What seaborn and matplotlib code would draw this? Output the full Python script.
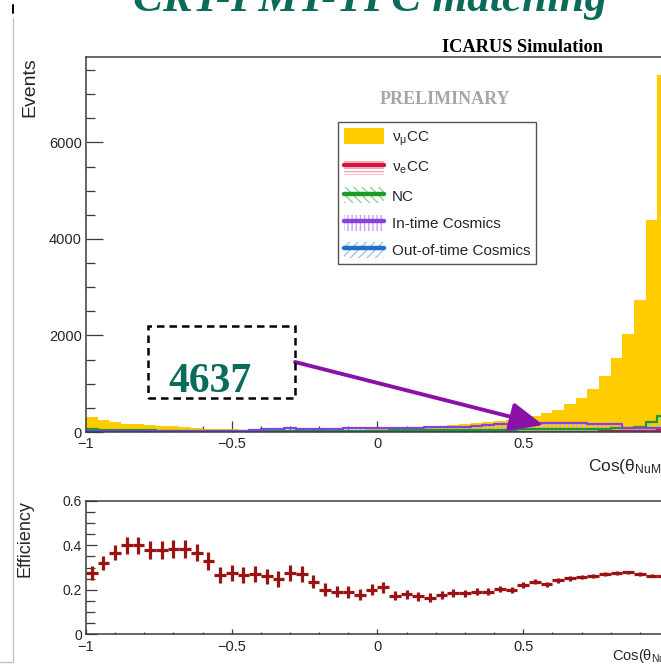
import numpy as np
import pandas as pd
import matplotlib
matplotlib.use("Agg")
import matplotlib.pyplot as plt
import seaborn as sns
from matplotlib.patches import Patch, Rectangle
from matplotlib.lines import Line2D
from matplotlib.ticker import MultipleLocator, FuncFormatter

# ---- binning: 50 bins in cos(theta_NuMI) over [-1, 1] ----
bin_edges = np.linspace(-1.0, 1.0, 51)
bin_centers = 0.5 * (bin_edges[:-1] + bin_edges[1:])

# ---- event counts per bin ----
numu_cc = [320, 250, 210, 175, 165, 135, 125, 120, 95, 90,
           72, 62, 52, 45, 40, 38, 35, 35, 36, 38,
           40, 42, 45, 48, 52, 56, 70, 80, 90, 105,
           120, 140, 160, 185, 205, 225, 250, 290, 338, 395,
           456, 580, 711, 885, 1167, 1527, 2031, 2736, 4394, 7400]
nue_cc = [4, 3, 3, 3, 3, 3, 3, 3, 3, 3,
          3, 3, 3, 3, 4, 4, 4, 4, 4, 4,
          5, 5, 5, 5, 5, 5, 6, 6, 6, 6,
          6, 7, 7, 7, 7, 8, 8, 8, 8, 9,
          9, 9, 10, 10, 11, 12, 14, 16, 25, 45]
nc = [70, 50, 42, 38, 35, 32, 30, 28, 27, 26,
      25, 25, 24, 24, 24, 25, 25, 25, 26, 26,
      27, 27, 28, 28, 30, 30, 32, 33, 35, 36,
      38, 40, 42, 44, 46, 48, 50, 52, 55, 58,
      60, 62, 64, 66, 70, 75, 85, 110, 215, 340]
intime_cosmics = [12, 12, 12, 12, 13, 13, 13, 14, 14, 15,
                  15, 16, 18, 20, 50, 52, 55, 80, 60, 65,
                  70, 72, 75, 78, 80, 82, 85, 88, 90, 95,
                  100, 105, 110, 115, 150, 160, 165, 170, 175, 180,
                  180, 180, 180, 175, 170, 160, 90, 85, 80, 75]
outtime_cosmics = [6, 6, 6, 6, 6, 6, 6, 6, 6, 6,
                   7, 7, 7, 7, 7, 7, 7, 7, 7, 7,
                   8, 8, 8, 8, 8, 8, 8, 8, 8, 8,
                   9, 9, 9, 9, 9, 9, 9, 9, 9, 9,
                   10, 10, 10, 10, 10, 10, 10, 10, 10, 10]

# ---- matching efficiency per bin with uncertainties ----
efficiency = [0.275, 0.32, 0.367, 0.399, 0.399, 0.38, 0.38, 0.384, 0.382, 0.367,
              0.33, 0.267, 0.275, 0.267, 0.27, 0.26, 0.248, 0.275, 0.272, 0.237,
              0.20, 0.192, 0.19, 0.177, 0.20, 0.212, 0.174, 0.18, 0.17, 0.165,
              0.177, 0.185, 0.185, 0.192, 0.192, 0.203, 0.198, 0.222, 0.237, 0.225,
              0.243, 0.252, 0.257, 0.263, 0.272, 0.275, 0.278, 0.272, 0.264, 0.26]
eff_err = [0.03, 0.03, 0.035, 0.04, 0.04, 0.04, 0.04, 0.04, 0.04, 0.04,
           0.04, 0.035, 0.035, 0.035, 0.035, 0.035, 0.035, 0.035, 0.035, 0.03,
           0.03, 0.025, 0.025, 0.025, 0.025, 0.025, 0.02, 0.02, 0.02, 0.02,
           0.018, 0.018, 0.016, 0.016, 0.015, 0.015, 0.014, 0.014, 0.013, 0.012,
           0.012, 0.011, 0.01, 0.01, 0.009, 0.009, 0.008, 0.008, 0.008, 0.008]

hist_df = pd.DataFrame({
    "cos": bin_centers,
    "numu": numu_cc,
    "nue": nue_cc,
    "nc": nc,
    "intime": intime_cosmics,
    "outtime": outtime_cosmics,
})
edges_list = [float(e) for e in bin_edges]

# ---- style ----
sns.set_style("ticks")
plt.rcParams["font.family"] = ["Liberation Sans", "DejaVu Sans"]
plt.rcParams["mathtext.default"] = "regular"
plt.rcParams["hatch.linewidth"] = 1.0

W, H = 661, 666
fig = plt.figure(figsize=(W / 100, H / 100), dpi=100, facecolor="white")

def fx(px):
    return px / W

def fy(py):
    return 1 - py / H

ax = fig.add_axes([fx(86), fy(432), fx(583), 375 / H])
axe = fig.add_axes([fx(86), fy(634.3), fx(583), 133.6 / H])

YELLOW = "#FFCC00"
components = [
    ("ν$_{e}$CC", "nue", "#D4143C", "#F3A5B6", "-----"),
    ("NC", "nc", "#1E9A2C", "#8ED39A", "\\\\\\\\"),
    ("In-time Cosmics", "intime", "#8A3FE0", "#C7A3F2", "||||"),
    ("Out-of-time Cosmics", "outtime", "#1F6FC4", "#9DC6EE", "////"),
]

# ---- upper panel: overlaid event distributions ----
sns.histplot(data=hist_df, x="cos", weights="numu", bins=edges_list, element="bars",
             fill=True, color=YELLOW, alpha=1, linewidth=0, ax=ax, zorder=1)
for label, col, line_c, hatch_c, hatch in components:
    sns.histplot(data=hist_df, x="cos", weights=col, bins=edges_list, element="step",
                 fill=True, color=hatch_c, facecolor="none", edgecolor=hatch_c,
                 hatch=hatch, linewidth=0, ax=ax, zorder=2)
    sns.histplot(data=hist_df, x="cos", weights=col, bins=edges_list, element="step",
                 fill=False, color=line_c, linewidth=1.6, ax=ax, zorder=3)

ax.set_xlim(-1, 1)
ax.set_ylim(0, 7770)
ax.set_xlabel("")
ax.set_ylabel("")

# labels without trailing zeros; the label at the far right edge is left blank
def tick_text(v, _):
    if v > 0.99:
        return ""
    return f"{v:g}".replace("-", "\u2212")

fmt_x = FuncFormatter(tick_text)
fmt_y = FuncFormatter(lambda v, _: f"{v:g}")

FRAME = "#3c3c3c"
for a in (ax, axe):
    for s in a.spines.values():
        s.set_visible(True)
        s.set_color(FRAME)
        s.set_linewidth(1.1)
        s.set_zorder(5)
    a.xaxis.set_major_locator(MultipleLocator(0.5))
    a.xaxis.set_minor_locator(MultipleLocator(0.1))
    a.xaxis.set_major_formatter(fmt_x)
    a.yaxis.set_major_formatter(fmt_y)
    a.set_facecolor("none")

ax.yaxis.set_major_locator(MultipleLocator(2000))
ax.yaxis.set_minor_locator(MultipleLocator(500))
ax.tick_params(axis="y", which="major", direction="in", length=12.2, width=0.9,
               pad=2.9, labelsize=10.5, color=FRAME)
ax.tick_params(axis="y", which="minor", direction="in", length=6.3, width=0.9, color=FRAME)
ax.tick_params(axis="x", which="major", direction="in", length=7.9, width=0.9,
               pad=3.6, labelsize=10.5, color=FRAME)
ax.tick_params(axis="x", which="minor", direction="in", length=4.0, width=0.9, color=FRAME)

# legend
legend_handles = [Patch(facecolor=YELLOW, edgecolor="none")]
legend_labels = ["ν$_{\\mu}$CC"]
for label, col, line_c, hatch_c, hatch in components:
    legend_handles.append((Patch(facecolor="white", edgecolor=hatch_c, hatch=hatch, linewidth=0),
                           Line2D([], [], color=line_c, linewidth=3.2)))
    legend_labels.append(label)
leg = ax.legend(legend_handles, legend_labels, loc="upper left",
                bbox_to_anchor=(fx(338), fy(122)), bbox_transform=fig.transFigure,
                frameon=True, fancybox=False, framealpha=1, edgecolor="#555555",
                fontsize=11, handlelength=2.6, handleheight=1.25, labelspacing=0.72,
                borderpad=0.4, handletextpad=0.52, borderaxespad=0)
leg.get_frame().set_linewidth(1.0)
leg.set_zorder(6)

# ---- lower panel: efficiency ----
axe.errorbar(bin_centers, efficiency, xerr=0.02, yerr=eff_err, fmt="none",
             ecolor="#9A1212", elinewidth=2.3, capsize=0, zorder=3)
axe.set_xlim(-1, 1)
axe.set_ylim(0, 0.6)
axe.yaxis.set_major_locator(MultipleLocator(0.2))
axe.yaxis.set_minor_locator(MultipleLocator(0.05))
axe.tick_params(axis="y", which="major", direction="in", length=8.0, width=0.9,
                pad=2.9, labelsize=10, color=FRAME)
axe.tick_params(axis="y", which="minor", direction="in", length=6.5, width=0.9, color=FRAME)
axe.tick_params(axis="x", which="major", direction="in", length=3.4, width=0.9,
                pad=4.3, labelsize=10.5, color=FRAME)
axe.tick_params(axis="x", which="minor", direction="in", length=1.8, width=0.9, color=FRAME)

# ---- axis titles and labels ----
fig.text(fx(30), fy(57), "Events", rotation=90, ha="center", va="top", fontsize=14)
fig.text(fx(25), fy(500), "Efficiency", rotation=90, ha="center", va="top", fontsize=13)
fig.text(fx(588), fy(471), "Cos(θ$_{NuMI}$)", ha="left", va="baseline", fontsize=12.5)
fig.text(fx(612), fy(660), "Cos(θ$_{NuMI}$)", ha="left", va="baseline", fontsize=10.5)

SERIF = ["Liberation Serif", "DejaVu Serif"]
TEAL = "#0A6B5B"
fig.text(fx(370), fy(11), "CRT-PMT-TPC matching", ha="center", va="baseline",
         fontsize=32.3, fontweight="bold", fontstyle="italic", family=SERIF, color=TEAL)
fig.text(fx(523), fy(52), "ICARUS Simulation", ha="center", va="baseline",
         fontsize=13.2, fontweight="bold", family=SERIF, color="black")
fig.text(fx(445), fy(104), "PRELIMINARY", ha="center", va="baseline",
         fontsize=13, fontweight="bold", family=SERIF, color="#A6A6A6")

# ---- highlighted count with pointer ----
fig.add_artist(Rectangle((fx(148), fy(398)), fx(147), 72 / H, transform=fig.transFigure,
                         fill=False, edgecolor="black", linewidth=1.8,
                         linestyle=(0, (3, 2)), zorder=7))
fig.text(fx(168), fy(392), "4637", ha="left", va="baseline", fontsize=30,
         fontweight="bold", family=SERIF, color=TEAL, zorder=7)
ax.annotate("", xy=(0.568, 145), xycoords="data",
            xytext=(fx(295), fy(362)), textcoords="figure fraction",
            arrowprops=dict(arrowstyle="-|>,head_length=0.8,head_width=0.35",
                            mutation_scale=25, color="#8B10A8", lw=2.8,
                            shrinkA=0, shrinkB=0), zorder=8)

# ---- page edge marks ----
fig.add_artist(Line2D([fx(13), fx(13)], [fy(18), fy(662)], transform=fig.transFigure,
                      color="#C4C4C4", linewidth=1.0))
fig.add_artist(Line2D([0, fx(13)], [fy(662), fy(662)], transform=fig.transFigure,
                      color="#C4C4C4", linewidth=1.0))
fig.add_artist(Line2D([fx(13), fx(13)], [fy(5), fy(13)], transform=fig.transFigure,
                      color="black", linewidth=1.4))

fig.savefig("out.png", dpi=100, facecolor="white")
